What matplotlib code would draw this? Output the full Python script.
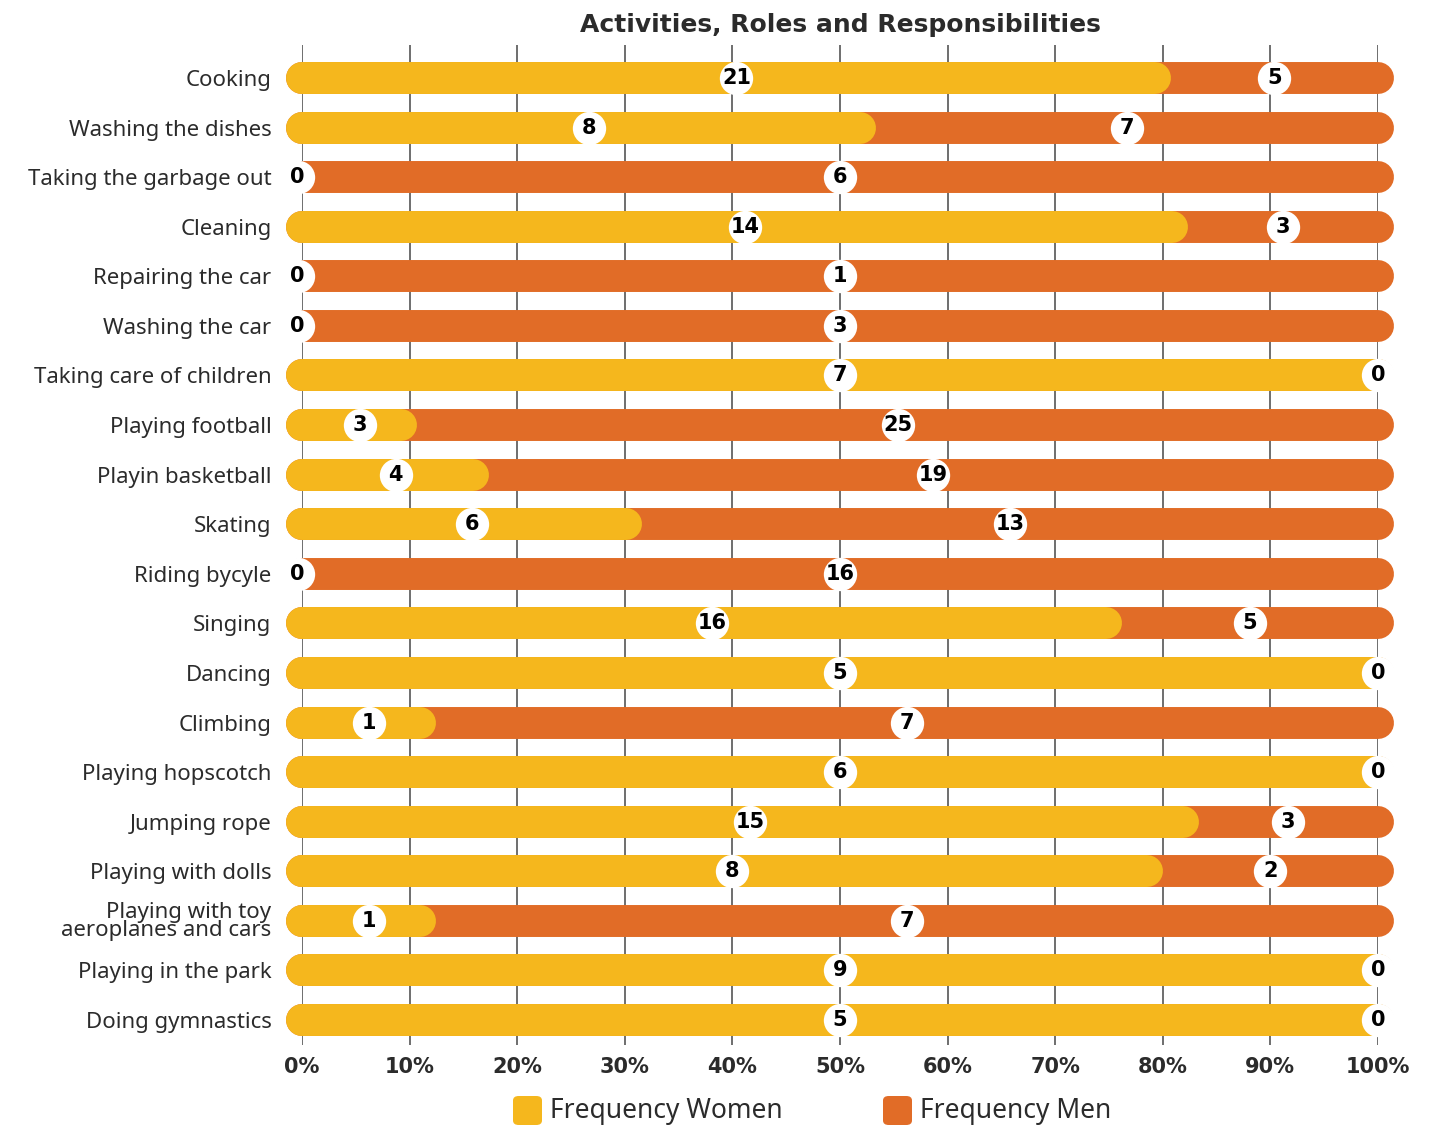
import matplotlib.pyplot as plt
from matplotlib.patches import FancyBboxPatch

# activity survey: how often women / men do each activity
activities = ["Cooking", "Washing the dishes", "Taking the garbage out", "Cleaning",
              "Repairing the car", "Washing the car", "Taking care of children",
              "Playing football", "Playin basketball", "Skating", "Riding bycyle",
              "Singing", "Dancing", "Climbing", "Playing hopscotch", "Jumping rope",
              "Playing with dolls", "Playing with toy\naeroplanes and cars",
              "Playing in the park", "Doing gymnastics"]
women = [21, 8, 0, 14, 0, 0, 7, 3, 4, 6, 0, 16, 5, 1, 6, 15, 8, 1, 9, 5]
men = [5, 7, 6, 3, 1, 3, 0, 25, 19, 13, 16, 5, 0, 7, 0, 3, 2, 7, 0, 0]
ticks = [0, 10, 20, 30, 40, 50, 60, 70, 80, 90, 100]
series = ["Frequency Women", "Frequency Men"]

YELLOW = "#F5B71D"
ORANGE = "#E16C27"
TEXT = "#2b2b2b"
BOLD = ['DejaVu Sans']

plt.rcParams['font.family'] = ['Noto Sans', 'DejaVu Sans']

fig = plt.figure(figsize=(14.31, 11.28), dpi=100)
ax = fig.add_axes([0.2110, 0.0736, 0.7519, 0.8865])
ax.set_xlim(0, 100)
ax.set_ylim(19.504, -0.666)

bar_lw = 23  # points, bar thickness
# half the bar thickness in data units, so the yellow round cap ends at the share
cap = (bar_lw / 72 * fig.dpi / 2) / (ax.get_position().width * fig.get_figwidth() * fig.dpi) * 100

for i, (w, m) in enumerate(zip(women, men)):
    share = 100 * w / (w + m)
    # full bar in orange, women share on top in yellow (round caps)
    ax.plot([0, 100], [i, i], color=ORANGE, lw=bar_lw, solid_capstyle='round',
            zorder=3, clip_on=False)
    if w > 0:
        end = share if m == 0 else max(share - cap, 0)
        ax.plot([0, end], [i, i], color=YELLOW, lw=bar_lw, solid_capstyle='round',
                zorder=4, clip_on=False)
    xw = share / 2 if w > 0 else -0.4
    xm = (share + 100) / 2 if m > 0 else 100
    for x, v in ((xw, w), (xm, m)):
        ax.plot(x, i, 'o', ms=24, color='white', mec='none', zorder=5, clip_on=False)
        ax.text(x, i, str(v), ha='center', va='center', fontsize=15, fontweight='bold',
                family=BOLD, color='black', zorder=6)

ax.set_xticks(ticks)
ax.set_xticklabels([f"{t}%" for t in ticks], fontsize=15, fontweight='bold',
                   family=BOLD, color=TEXT)
ax.set_yticks(range(len(activities)))
ax.set_yticklabels(activities, fontsize=16, color=TEXT, linespacing=0.82)
ax.tick_params(axis='y', length=0, pad=22)
ax.tick_params(axis='x', length=0, pad=9)
ax.grid(axis='x', color='#555555', lw=1.2, zorder=1)
ax.set_axisbelow(True)
for s in ax.spines.values():
    s.set_visible(False)

fig.text(0.587, 0.978, "Activities, Roles and Responsibilities", ha='center', va='center',
         fontsize=18, fontweight='bold', family=BOLD, color=TEXT)

# legend: rounded colour squares with the series names
for x0, name, col in zip([513, 883], series, [YELLOW, ORANGE]):
    fig.patches.append(FancyBboxPatch((x0 / 1431, 1 - 1125 / 1128), 29 / 1431, 29 / 1128,
                                      boxstyle="round,pad=0,rounding_size=0.004",
                                      transform=fig.transFigure, color=col, lw=0))
    fig.text((x0 + 37) / 1431, 1 - 1111 / 1128, name, ha='left', va='center',
             fontsize=19, color=TEXT)

fig.savefig("out.png", dpi=100)
